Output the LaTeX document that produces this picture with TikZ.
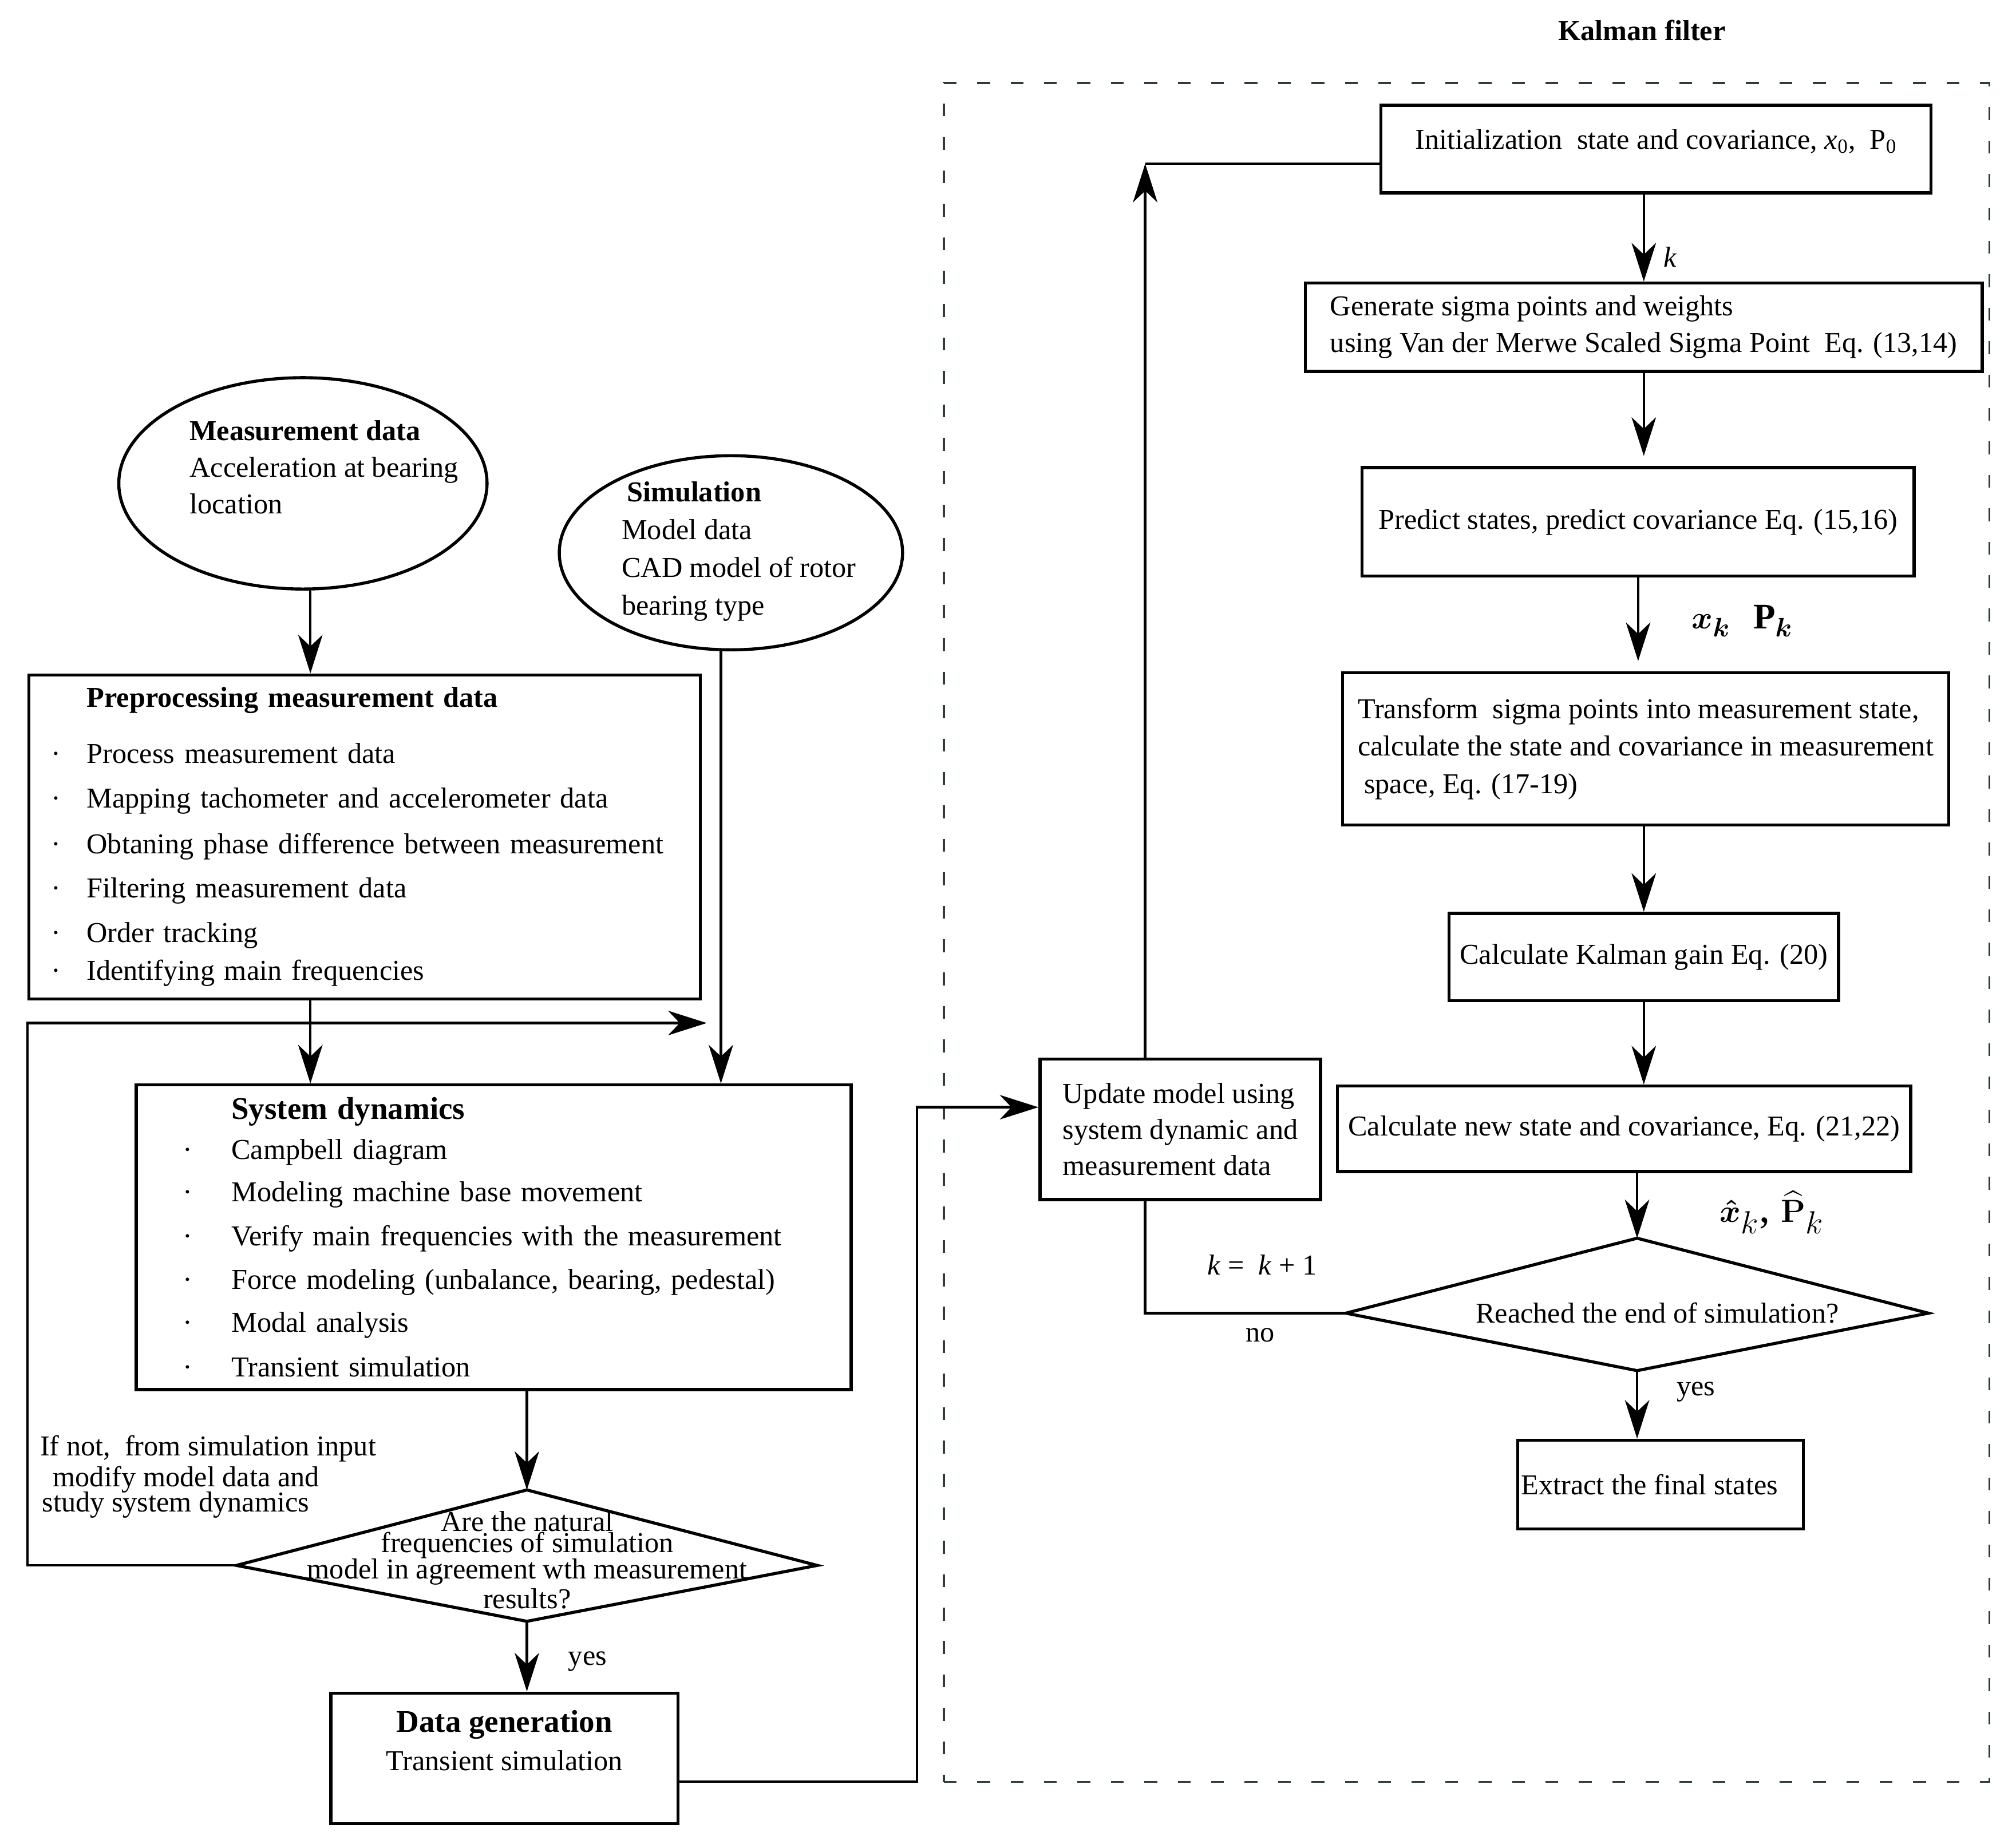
\documentclass[tikz,border=0pt]{standalone}
\usepackage{amsmath}
\usepackage{fontspec}
\setmainfont{Liberation Serif}
\usetikzlibrary{arrows.meta,shapes.geometric,calc}
\definecolor{dashcol}{RGB}{45,62,56}
\newcommand\fnorm{\fontsize{22.4pt}{28pt}\selectfont}
\newcommand\fdia{\fontsize{22.4pt}{16.5pt}\selectfont\lineskiplimit-30pt\relax}
\newcommand\fifnot{\fontsize{22.4pt}{19.4pt}\selectfont\lineskiplimit-30pt\relax}
\newcommand\bul[1]{\makebox[#1][l]{\textperiodcentered}}
\begin{document}
\begin{tikzpicture}[x=1pt,y=-1pt,
  box/.style={draw, line width=2.4pt, inner sep=0pt, font=\fnorm},
  arr/.style={line width=2pt, -{Stealth[length=30pt,width=19pt,inset=9pt]}},
  conn/.style={line width=2pt},
  lbl/.style={inner sep=0pt, font=\fnorm},
  dia/.style={line width=2.4pt, line join=miter},
]
\useasboundingbox (0,0) rectangle (1568,1434);

% ---------------- Kalman filter frame ----------------
\node[lbl, font=\fnorm\bfseries] (kftitle) at (1277,23.4) {Kalman filter};
\node[draw=dashcol, line width=1.6pt, dash pattern=on 10pt off 16pt,
      minimum width=813.2pt, minimum height=1321.6pt, inner sep=0pt] (kf) at (1140.6,725.4) {};

\node[box, minimum width=428pt, minimum height=68pt] (init) at (1288,116)
  {\smash{Initialization~ state and covariance, \textit{x}\textsubscript{0},~ P\textsubscript{0}}};
\node[box, align=left, minimum width=526.5pt, minimum height=68.7pt,
      font=\fontsize{22.4pt}{28.7pt}\selectfont] (gen) at (1278.5,254.5)
  {Generate sigma points and weights\\using Van der Merwe Scaled Sigma Point~ Eq. (13,14)};
\node[box, minimum width=429.4pt, minimum height=84.4pt] (pred) at (1274.1,406)
  {Predict states, predict covariance Eq. (15,16)};
\node[box, align=left, minimum width=471.5pt, minimum height=118.4pt,
      font=\fontsize{22.4pt}{29pt}\selectfont] (trans) at (1279.9,582.6)
  {Transform~ sigma points into measurement state,\\calculate the state and covariance in measurement\\\hspace*{5pt}space, Eq. (17-19)};
\node[box, minimum width=302.9pt, minimum height=68.1pt] (gain) at (1278.5,744.5)
  {Calculate Kalman gain Eq. (20)};
\node[box, minimum width=445.8pt, minimum height=66.5pt] (newst) at (1263.2,878)
  {Calculate new state and covariance, Eq. (21,22)};
\coordinate (d2t) at (1273.3,963.2);
\coordinate (d2r) at (1499.8,1021.5);
\coordinate (d2b) at (1273.3,1066.2);
\coordinate (d2l) at (1046.8,1021.5);
\draw[dia] (d2t) -- (d2r) -- (d2b) -- (d2l) -- cycle;
\node[lbl] (d2text) at (1289,1021.5) {Reached the end of simulation?};
\node[box, minimum width=222.1pt, minimum height=69pt] (extr) at (1291.5,1154.8)
  {Extract the final states\hspace*{17pt}};
\node[box, align=left, minimum width=218.3pt, minimum height=109.1pt,
      font=\fontsize{22.4pt}{28.1pt}\selectfont] (upd) at (918,878.5)
  {Update model using\\system dynamic and\\measurement data};

\node[lbl] (klab) at (1299,199.9) {\textit{k}};
\node[lbl, font=\fontsize{28pt}{30pt}\selectfont] (xplab) at (1355,483)
  {$\boldsymbol{x}_{\boldsymbol{k}}$\hspace{18pt}$\mathbf{P}_{\boldsymbol{k}}$};
\node[lbl, font=\fontsize{34pt}{34pt}\selectfont] (xphat) at (1378,943)
  {$\boldsymbol{\hat{x}}_{k}$, $\boldsymbol{\widehat{\mathbf{P}}}_{k}$};
\node[lbl] (kinc) at (981.6,984) {\textit{k} =~ \textit{k} + 1};
\node[lbl] (nolab) at (980,1038.8) {no};
\node[lbl] (yes2) at (1319,1082.8) {yes};

\draw[arr] (init.south -| gen.north) -- (gen.north);
\draw[arr, shorten >=8pt] (gen.south) -- (gen.south |- pred.north);
\draw[arr, shorten >=8pt] (pred.south) -- (pred.south |- trans.north);
\draw[arr] (gain.north |- trans.south) -- (gain.north);
\draw[arr] (gain.south) -- (gain.south |- newst.north);
\draw[arr] (d2t |- newst.south) -- (d2t);
\draw[arr] (d2b) -- (d2b |- extr.north);
\draw[conn] (d2l) -| ([xshift=-27.3pt]upd.south);
\coordinate (looptop) at (890.7,127.4);
\draw[arr] ([xshift=-27.3pt]upd.north) -- (looptop);
\draw[conn] (init.west |- looptop) -- (looptop);

% ---------------- left part ----------------
\node[draw, ellipse, line width=2.4pt, minimum width=286.4pt, minimum height=164.4pt, inner sep=0pt,
      font=\fontsize{22.4pt}{28.5pt}\selectfont] (meas) at (235.6,376)
  {\makebox[0pt]{\hspace*{32.8pt}\smash{\raisebox{5.4pt}{\begin{tabular}{@{}l@{}}\textbf{Measurement data}\\Acceleration at bearing\\location\end{tabular}}}}};
\node[draw, ellipse, line width=2.4pt, minimum width=267pt, minimum height=151pt, inner sep=0pt,
      font=\fontsize{22.4pt}{29.3pt}\selectfont] (sim) at (568.5,430)
  {\makebox[0pt]{\hspace*{12.4pt}\smash{\raisebox{-3.65pt}{\begin{tabular}{@{}l@{}}\hspace*{4pt}\textbf{Simulation}\\Model data\\CAD model of rotor\\bearing type\end{tabular}}}}};

\node[box, align=left, text width=487.2pt, minimum width=522.2pt, minimum height=252pt,
      font=\fontsize{22.4pt}{28pt}\selectfont] (pre) at (283.6,651)
  {\hspace*{27.5pt}\textbf{Preprocessing measurement data}\\[15.6pt]
   \bul{27.5pt}Process measurement data\\[6.4pt]
   \bul{27.5pt}Mapping tachometer and accelerometer data\\[8pt]
   \bul{27.5pt}Obtaning phase difference between measurement\\[6.3pt]
   \bul{27.5pt}Filtering measurement data\\[6.3pt]
   \bul{27.5pt}Order tracking\\[1.7pt]
   \bul{27.5pt}Identifying main frequencies};

\node[box, align=left, text width=483.2pt, minimum width=556pt, minimum height=237pt,
      font=\fontsize{22.4pt}{28pt}\selectfont] (sys) at (384,962.5)
  {\hspace*{37.6pt}{\fontsize{24.5pt}{28pt}\selectfont\bfseries System dynamics}\\[3.2pt]
   \bul{37.6pt}Campbell diagram\\[4.8pt]
   \bul{37.6pt}Modeling machine base movement\\[6.3pt]
   \bul{37.6pt}Verify main frequencies with the measurement\\[6pt]
   \bul{37.6pt}Force modeling (unbalance, bearing, pedestal)\\[5.2pt]
   \bul{37.6pt}Modal analysis\\[7pt]
   \bul{37.6pt}Transient simulation};

\coordinate (d1t) at (409.8,1159);
\coordinate (d1r) at (635.6,1217.7);
\coordinate (d1b) at (409.8,1261.2);
\coordinate (d1l) at (183.9,1217.7);
\draw[dia] (d1t) -- (d1r) -- (d1b) -- (d1l) -- cycle;
\node[lbl, align=center, font=\fdia] (d1text) at (410,1213.6)
  {Are the natural\\frequencies of simulation\\[3.8pt]model in agreement wth measurement\\[6.7pt]results?};

\node[lbl, align=left, anchor=west, font=\fifnot] (ifnot) at (31,1148.8)
  {If not,~ from simulation input\\[4.6pt]\hspace*{10pt}modify model data and\\\hspace*{1.5pt}study system dynamics};
\node[lbl] (yes1) at (457,1292.5) {yes};

\node[box, minimum width=269.9pt, minimum height=101.6pt, font=\fontsize{22.4pt}{29.5pt}\selectfont] (dg) at (392.3,1367.8)
  {\smash{\raisebox{6.2pt}{\begin{tabular}{@{}c@{}}{\fontsize{24.5pt}{29.5pt}\selectfont\bfseries Data generation}\\Transient simulation\end{tabular}}}};

\draw[arr] ([xshift=5.8pt]meas.south) -- ([xshift=5.8pt]meas.south |- pre.north);
\draw[arr] ([xshift=5.8pt]meas.south |- pre.south) -- ([xshift=5.8pt]meas.south |- sys.north);
\draw[arr] ([xshift=-7.8pt]sim.south) -- ([xshift=-7.8pt]sim.south |- sys.north);
\coordinate (fbend) at (549.7,795.8);
\draw[arr] (d1l) -- (d1l -| pre.west) |- (fbend);
\draw[arr] (d1t |- sys.south) -- (d1t);
\draw[arr] (d1b) -- (d1b |- dg.north);
\draw[arr] ([yshift=-18pt]dg.east) -- ++(184.8,0) |- ([yshift=17.2pt]upd.west);
\end{tikzpicture}
\end{document}
